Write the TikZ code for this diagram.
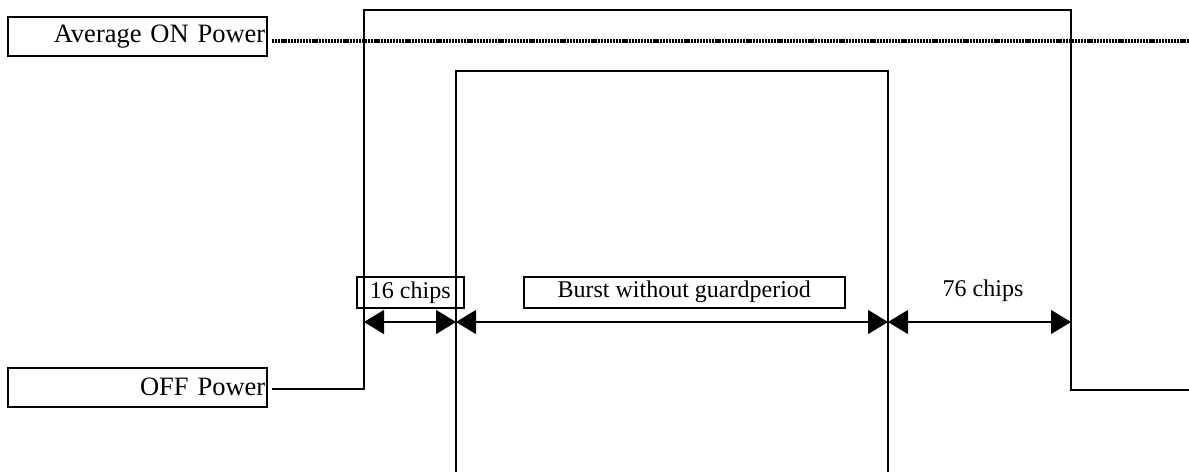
\documentclass[tikz,border=0pt]{standalone}
\usepackage{fontspec}
\setmainfont{Liberation Serif}
\usetikzlibrary{arrows.meta}
\begin{document}
\begin{tikzpicture}[x=1pt,y=-1pt,
  lbl/.style={draw,line width=1.5pt,inner sep=0pt,font=\fontsize{24}{28}\selectfont},
  biglbl/.style={lbl,font=\fontsize{26.5}{30}\selectfont,minimum width=259pt,minimum height=39pt,text width=256pt,align=right,anchor=north west},
  wave/.style={line width=2pt,line join=miter},
  dim/.style={line width=1.2pt,{Triangle[length=20pt,width=24pt]}-{Triangle[length=20pt,width=24pt]}}]
\useasboundingbox (0,0) rectangle (1189,472);
% label boxes
\node[biglbl] (avg) at (7,16) {Average ON Power};
\node[biglbl] (off) at (7,367) {OFF Power};
\node[lbl,minimum width=107pt,minimum height=31pt,anchor=north west] (c16) at (356,276) {16 chips};
\node[lbl,minimum width=321pt,minimum height=31pt,anchor=north west] (burst) at (523,276) {Burst without guardperiod};
\node[lbl,draw=none] (c76) at (983,291) {76 chips};
% coordinates
\coordinate (a0) at (272,389);
\coordinate (a1) at (364,389);
\coordinate (a2) at (364,10);
\coordinate (a3) at (1071,10);
\coordinate (a4) at (1071,390);
\coordinate (a5) at (1189,390);
\coordinate (b0) at (456,472);
\coordinate (b1) at (456,71);
\coordinate (b2) at (888,71);
\coordinate (b3) at (888,472);
\coordinate (d0) at (272,41);
\coordinate (d1) at (1189,41);
\coordinate (m1) at (364,322);
\coordinate (m2) at (456,322);
\coordinate (m3) at (888,322);
\coordinate (m4) at (1071,322);
% waveforms
\draw[line width=4pt,dash pattern=on 2.2pt off 0.9pt] (d0) -- (d1);
\draw[wave] (a0) -- (a1) -- (a2) -- (a3) -- (a4) -- (a5);
\draw[wave] (b0) -- (b1) -- (b2) -- (b3);
% dimension arrows
\draw[dim] (m1) -- (m2);
\draw[dim] (m2) -- (m3);
\draw[dim] (m3) -- (m4);
\end{tikzpicture}
\end{document}
